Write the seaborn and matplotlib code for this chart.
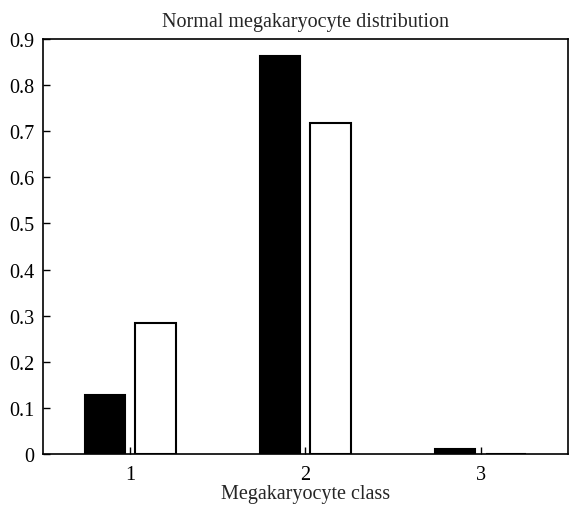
import matplotlib
matplotlib.use("Agg")
import matplotlib.pyplot as plt
import seaborn as sns
import pandas as pd

classes = ["1", "2", "3"]
series_names = ["A", "B"]
values_a = [0.129, 0.862, 0.010]
values_b = [0.284, 0.717, 0.0]
yticks = [0, 0.1, 0.2, 0.3, 0.4, 0.5, 0.6, 0.7, 0.8, 0.9]
ytick_labels = ["0", "0.1", "0.2", "0.3", "0.4", "0.5", "0.6", "0.7", "0.8", "0.9"]

df = pd.DataFrame({
    "cls": classes * 2,
    "series": [series_names[0]] * 3 + [series_names[1]] * 3,
    "val": values_a + values_b,
})

sns.set_style("white")
plt.rcParams["font.family"] = ["Liberation Serif", "DejaVu Serif"]

fig = plt.figure(figsize=(5.7, 5.06), dpi=100)
ax = fig.add_axes([0.0754, 0.1008, 0.9211, 0.8202])

sns.barplot(data=df, x="cls", y="val", hue="series", order=classes,
            hue_order=series_names, palette=["black", "white"],
            width=0.572, gap=0.2, edgecolor="black", linewidth=1.5,
            legend=False, ax=ax)

ax.set_xlim(-0.5, 2.5)
ax.set_ylim(0, 0.9)
ax.set_yticks(yticks)
ax.set_yticklabels(ytick_labels)
ax.tick_params(axis="both", direction="in", length=5, width=1, labelsize=14.5,
               color="black", labelcolor="black", bottom=True, left=True,
               top=False, right=False)
ax.tick_params(axis="x", pad=8)
ax.tick_params(axis="y", pad=6)
for s in ax.spines.values():
    s.set_visible(True)
    s.set_color("black")
    s.set_linewidth(1.2)
ax.set_xlabel("Megakaryocyte class", fontsize=14.5, labelpad=0)
ax.set_ylabel("")
ax.set_title("Normal megakaryocyte distribution", fontsize=14.5, pad=9)

fig.savefig("out.png", dpi=100)
